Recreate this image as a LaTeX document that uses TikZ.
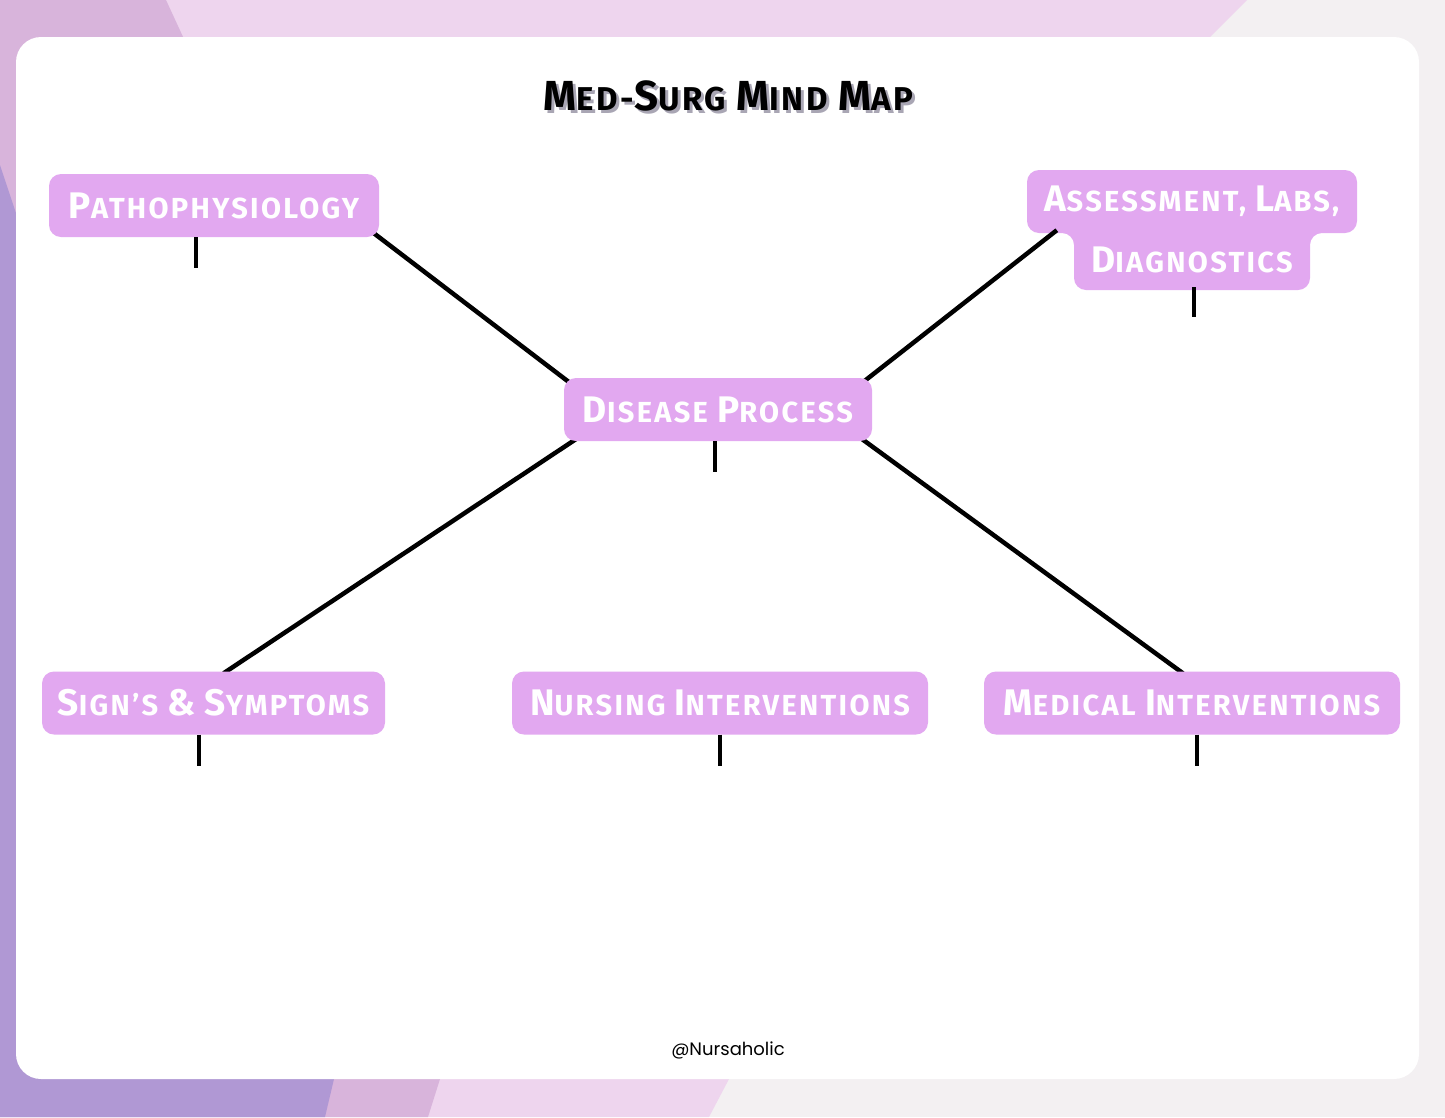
\documentclass[tikz,border=0pt]{standalone}
\usepackage{fontspec}
\setmainfont{Fira Sans}[Ligatures=TeX]
\newfontfamily\mapfont{Fira Sans}[Ligatures=TeX, LetterSpace=8]
\newfontfamily\footfont{Poppins}
\usetikzlibrary{calc}
\definecolor{bggrey}{HTML}{F3F0F2}
\definecolor{bgpink}{HTML}{EED5EE}
\definecolor{bgmauve}{HTML}{D8B4DB}
\definecolor{bgpurple}{HTML}{B098D4}
\definecolor{boxfill}{HTML}{E2A8F0}
\definecolor{shadowgrey}{HTML}{A9A6B4}
\newcommand\fsc[2]{{\fontsize{37}{40}\selectfont #1}\MakeUppercase{#2}}
\newcommand\tsc[2]{{\fontsize{42}{45}\selectfont #1}\MakeUppercase{#2}}
\pgfdeclarelayer{back}
\pgfdeclarelayer{lines}
\pgfsetlayers{back,lines,main}
\tikzset{
  boxtext/.style={text=white, font=\mapfont\bfseries\fontsize{29}{32}\selectfont,
    inner sep=0pt, anchor=center},
  mapbox/.style={boxtext, fill=boxfill, rounded corners=12pt, minimum height=63pt},
  titletext/.style={font=\mapfont\bfseries\fontsize{33}{36}\selectfont, inner sep=0pt},
  link/.style={line width=4.5pt, black},
  stub/.style={line width=4.5pt, black},
}
\begin{document}
\begin{tikzpicture}[x=1pt,y=-1pt]
\begin{pgfonlayer}{back}
\useasboundingbox (0,0) rectangle (1445,1117);
\fill[bggrey] (0,0) rectangle (1445,1117);
\fill[bgpink] (0,0) -- (1247,0) -- (1190,57) -- (0,57) -- cycle;
\fill[bgpink] (0,1060) -- (739,1060) -- (709,1117) -- (0,1117) -- cycle;
\fill[bgmauve] (0,0) -- (166,0) -- (190,52) -- (30,52) -- (30,260) -- (0,260) -- cycle;
\fill[bgmauve] (0,1060) -- (446,1060) -- (428,1117) -- (0,1117) -- cycle;
\fill[bgpurple] (0,165) -- (30,255) -- (30,1060) -- (338.5,1060) -- (325,1117) -- (0,1117) -- cycle;
\fill[white, rounded corners=25pt] (16,37) rectangle (1419,1079);
\fill[boxfill, rounded corners=12pt] (1027,170) -- (1357,170) -- (1357,233) -- (1310,233) -- (1310,290) -- (1074,290) -- (1074,233) -- (1027,233) -- cycle;
\end{pgfonlayer}

% title
\node[titletext, text=shadowgrey] (titleshadow) at (731.5,98.5) {\tsc{M}{ed}-\tsc{S}{urg} \tsc{M}{ind} \tsc{M}{ap}};
\node[titletext, text=black] (title) at (728.5,95.5) {\tsc{M}{ed}-\tsc{S}{urg} \tsc{M}{ind} \tsc{M}{ap}};

% boxes
\node[mapbox, minimum width=330pt] (patho) at (214,205.5) {\fsc{P}{athophysiology}};
\node[mapbox, minimum width=308pt] (disease) at (718,409.5) {\fsc{D}{isease} \fsc{P}{rocess}};
\node[boxtext, minimum width=330pt, minimum height=63pt] (assess1) at (1192,201.5) {\fsc{A}{ssessment}, \fsc{L}{abs},};
\node[boxtext, minimum width=236pt, minimum height=55pt] (assess2) at (1192,259.5) {\fsc{D}{iagnostics}};
\node[mapbox, minimum width=343pt] (signs) at (213.5,703) {\fsc{S}{ign's} \fsc{\&}{} \fsc{S}{ymptoms}};
\node[mapbox, minimum width=416pt] (nursing) at (720,703) {\fsc{N}{ursing} \fsc{I}{nterventions}};
\node[mapbox, minimum width=416pt] (medical) at (1192,703) {\fsc{M}{edical} \fsc{I}{nterventions}};

\node[font=\footfont\fontsize{18}{20}\selectfont, text=black] (footer) at (728,1050) {@Nursaholic};

\begin{pgfonlayer}{lines}
\draw[link] ($(patho.south east)+(-8,-6)$) -- ($(disease.north west)+(10,8)$);
\draw[link] ($(assess1.south west)+(30,-3)$) -- ($(disease.north east)+(-10,5)$);
\draw[link] ($(signs.north)+(10,2)$) -- ($(disease.south west)+(12,-2)$);
\draw[link] ($(medical.north)+(-9,2)$) -- ($(disease.south east)+(-10,-2)$);
\end{pgfonlayer}

\draw[stub] ($(patho.south)+(-18,0)$) -- +(0,31);
\draw[stub] ($(assess2.south)+(2,0)$) -- +(0,30);
\draw[stub] ($(disease.south)+(-3,0)$) -- +(0,31);
\draw[stub] ($(signs.south)+(-14.5,0)$) -- +(0,31);
\draw[stub] ($(nursing.south)+(0,0)$) -- +(0,31);
\draw[stub] ($(medical.south)+(5,0)$) -- +(0,31);
\end{tikzpicture}
\end{document}
